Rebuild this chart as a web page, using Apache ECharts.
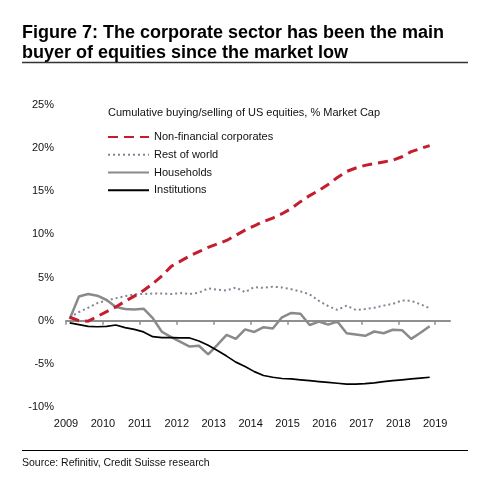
<!DOCTYPE html>
<html>
<head>
<meta charset="utf-8">
<script src="https://cdn.jsdelivr.net/npm/echarts@6/dist/echarts.min.js"></script>
<style>
  html, body { margin: 0; padding: 0; background: #fff; }
  #main { width: 498px; height: 487px; }
</style>
</head>
<body>
<div id="main"></div>
<script>
var chartDom = document.getElementById('main');
var myChart = echarts.init(chartDom);
var option;

// quarterly observations, decimal years
const quarters = [
  2009.1, 2009.35, 2009.6, 2009.85, 2010.1, 2010.35, 2010.6, 2010.85,
  2011.1, 2011.35, 2011.6, 2011.85, 2012.1, 2012.35, 2012.6, 2012.85,
  2013.1, 2013.35, 2013.6, 2013.85, 2014.1, 2014.35, 2014.6, 2014.85,
  2015.1, 2015.35, 2015.6, 2015.85, 2016.1, 2016.35, 2016.6, 2016.85,
  2017.1, 2017.35, 2017.6, 2017.85, 2018.1, 2018.35, 2018.6, 2018.85
];
const yearTicks = [2009, 2010, 2011, 2012, 2013, 2014, 2015, 2016, 2017, 2018, 2019];

// cumulative buying/selling, % of market cap
const corporates = [
  0.4, 0.0, -0.05, 0.5, 1.05, 1.6, 2.25, 2.85,
  3.5, 4.3, 5.2, 6.3, 6.9, 7.5, 8.0, 8.5,
  8.9, 9.3, 9.9, 10.5, 11.0, 11.5, 11.9, 12.4,
  13.0, 13.8, 14.5, 15.1, 15.8, 16.6, 17.3, 17.7,
  18.0, 18.2, 18.4, 18.6, 19.0, 19.6, 19.95, 20.3
];
const restOfWorld = [
  0.4, 1.0, 1.5, 2.05, 2.35, 2.6, 2.85, 3.05,
  3.1, 3.15, 3.15, 3.1, 3.2, 3.1, 3.25, 3.75,
  3.6, 3.5, 3.85, 3.3, 3.9, 3.8, 3.95, 3.85,
  3.65, 3.4, 3.05, 2.3, 1.7, 1.25, 1.75, 1.25,
  1.35, 1.5, 1.75, 1.95, 2.35, 2.3, 1.9, 1.45
];
const households = [
  0.2, 2.8, 3.1, 2.9, 2.4, 1.6, 1.35, 1.3,
  1.4, 0.3, -1.3, -1.9, -2.45, -3.0, -2.9, -3.9,
  -2.8, -1.65, -2.1, -1.0, -1.3, -0.75, -0.9, 0.4,
  0.9, 0.8, -0.5, -0.1, -0.45, -0.1, -1.45, -1.6,
  -1.75, -1.25, -1.45, -1.05, -1.1, -2.1, -1.4, -0.65
];
const institutions = [
  -0.25, -0.45, -0.65, -0.7, -0.65, -0.5, -0.8, -1.0,
  -1.3, -1.85, -1.95, -1.95, -2.0, -2.0, -2.35, -2.85,
  -3.45, -4.1, -4.8, -5.3, -5.9, -6.35, -6.55, -6.7,
  -6.75, -6.85, -6.95, -7.05, -7.15, -7.25, -7.35, -7.35,
  -7.3, -7.2, -7.05, -6.95, -6.85, -6.75, -6.65, -6.55
];

const sans = "'Liberation Sans', Arial, sans-serif";

function pairs(values) {
  return quarters.map((q, i) => [q, values[i]]);
}

option = {
  animation: false,
  backgroundColor: '#fff',
  title: [
    {
      text: 'Figure 7: The corporate sector has been the main\nbuyer of equities since the market low',
      left: 22,
      top: 23,
      padding: 0,
      textStyle: {
        fontFamily: sans,
        fontSize: 18,
        fontWeight: 'bold',
        color: '#000',
        lineHeight: 20
      }
    },
    {
      text: 'Cumulative buying/selling of US equities, % Market Cap',
      left: 108,
      top: 107.5,
      padding: 0,
      textStyle: {
        fontFamily: sans,
        fontSize: 11,
        fontWeight: 'normal',
        color: '#111'
      }
    },
    {
      text: 'Source: Refinitiv, Credit Suisse research',
      left: 22,
      top: 458,
      padding: 0,
      textStyle: {
        fontFamily: sans,
        fontSize: 10.5,
        fontWeight: 'normal',
        color: '#111'
      }
    }
  ],
  legend: {
    orient: 'vertical',
    left: 107,
    top: 131.5,
    padding: 0,
    itemWidth: 41,
    itemHeight: 14,
    itemGap: 6.5,
    itemStyle: { opacity: 0 },
    textStyle: {
      fontFamily: sans,
      fontSize: 11,
      color: '#111'
    },
    data: ['Non-financial corporates', 'Rest of world', 'Households', 'Institutions']
  },
  grid: {
    left: 66,
    right: 48,
    top: 105,
    bottom: 80
  },
  xAxis: [
    {
      type: 'value',
      min: 2009,
      max: 2019.4,
      position: 'bottom',
      axisLine: { show: true, onZero: true, lineStyle: { color: '#8f8f8f', width: 2 } },
      axisTick: { show: true, inside: false, length: 4, customValues: yearTicks, lineStyle: { color: '#8f8f8f', width: 1.5 } },
      axisLabel: { show: false },
      splitLine: { show: false }
    },
    {
      type: 'value',
      min: 2009,
      max: 2019.4,
      position: 'bottom',
      axisLine: { show: false, onZero: false },
      axisTick: { show: false },
      axisLabel: {
        show: true,
        customValues: yearTicks,
        margin: 11,
        fontFamily: sans,
        fontSize: 11,
        color: '#111',
        formatter: v => String(Math.round(v))
      },
      splitLine: { show: false }
    }
  ],
  yAxis: {
    type: 'value',
    min: -10,
    max: 25,
    interval: 5,
    axisLine: { show: false },
    axisTick: { show: false },
    splitLine: { show: false },
    axisLabel: {
      margin: 12,
      fontFamily: sans,
      fontSize: 11,
      color: '#111',
      formatter: '{value}%'
    }
  },
  series: [
    {
      name: 'Non-financial corporates',
      type: 'line',
      xAxisIndex: 0,
      data: pairs(corporates),
      symbol: 'none',
      lineStyle: { color: '#c41e2e', width: 3, type: [10, 6] },
      itemStyle: { color: '#c41e2e' },
      z: 5
    },
    {
      name: 'Rest of world',
      type: 'line',
      xAxisIndex: 0,
      data: pairs(restOfWorld),
      symbol: 'none',
      lineStyle: { color: '#7d8894', width: 2, type: [2, 3] },
      itemStyle: { color: '#7d8894' },
      z: 3
    },
    {
      name: 'Households',
      type: 'line',
      xAxisIndex: 0,
      data: pairs(households),
      symbol: 'none',
      lineStyle: { color: '#8a8a8a', width: 2.5 },
      itemStyle: { color: '#8a8a8a' },
      z: 4
    },
    {
      name: 'Institutions',
      type: 'line',
      xAxisIndex: 0,
      data: pairs(institutions),
      symbol: 'none',
      lineStyle: { color: '#000', width: 1.7 },
      itemStyle: { color: '#000' },
      z: 4
    }
  ],
  graphic: [
    {
      type: 'line',
      shape: { x1: 22, y1: 62.5, x2: 468, y2: 62.5 },
      style: { stroke: '#333', lineWidth: 1.5 }
    },
    {
      type: 'line',
      shape: { x1: 22, y1: 450.5, x2: 468, y2: 450.5 },
      style: { stroke: '#000', lineWidth: 1 }
    }
  ]
};

option && myChart.setOption(option);
</script>
</body>
</html>
